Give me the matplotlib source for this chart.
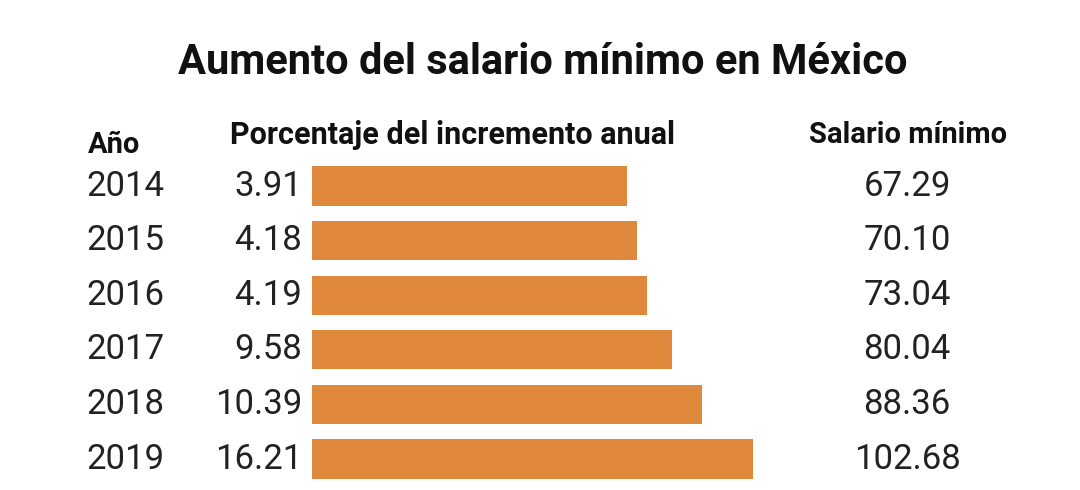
import matplotlib
matplotlib.use("Agg")
import matplotlib.pyplot as plt

years = ["2014", "2015", "2016", "2017", "2018", "2019"]
pct = ["3.91", "4.18", "4.19", "9.58", "10.39", "16.21"]
salario = [67.29, 70.10, 73.04, 80.04, 88.36, 102.68]
base = -21.07

W, H = 1080, 490
fig = plt.figure(figsize=(W/100, H/100), dpi=100)
fig.patch.set_facecolor("white")
plt.rcParams["font.family"] = "Roboto"

def fx(x): return x / W
def fy(y): return 1 - y / H

row0, step = 186, 54.6
top = row0 - step/2
bot = row0 + 5*step + step/2
ax = fig.add_axes([fx(312), fy(bot), fx(800) - fx(312), (bot - top)/H])
ax.set_xlim(base, base + 488/3.56)
ax.set_ylim(5.5, -0.5)
ax.barh(range(len(years)), [v - base for v in salario], left=base, height=0.72, color="#E0883C")
ax.axis("off")

fig.text(fx(543), fy(62), "Aumento del salario mínimo en México", ha="center", va="center",
         fontsize=30, fontweight="bold", color="#111111")
fig.text(fx(88), fy(145), "Año", ha="left", va="center", fontsize=21, fontweight="bold", color="#111111")
fig.text(fx(230), fy(135), "Porcentaje del incremento anual", ha="left", va="center", fontsize=22, fontweight="bold", color="#111111")
fig.text(fx(908), fy(135), "Salario mínimo", ha="center", va="center", fontsize=21, fontweight="bold", color="#111111")

for i, (yr, p, s) in enumerate(zip(years, pct, salario)):
    y = row0 + i*step
    fig.text(fx(125), fy(y), yr, ha="center", va="center", fontsize=25, color="#222222")
    fig.text(fx(302), fy(y), p, ha="right", va="center", fontsize=25, color="#222222")
    fig.text(fx(907), fy(y), f"{s:.2f}", ha="center", va="center", fontsize=25, color="#222222")

fig.savefig("out.png", dpi=100, facecolor="white")
